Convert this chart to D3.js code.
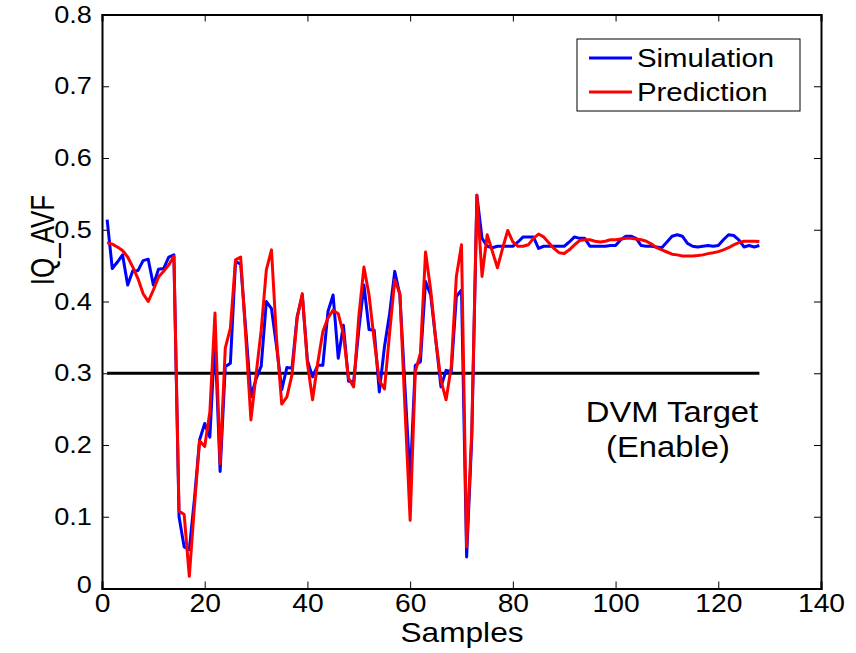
<!DOCTYPE html>
<html>
<head>
<meta charset="utf-8">
<script src="https://cdn.jsdelivr.net/npm/d3@7"></script>
<style>
  body { margin: 0; background: #fff; }
  text { font-family: "Liberation Sans", Arial, sans-serif; fill: #000; }
</style>
</head>
<body>
<div id="graph"></div>
<script>
// values, one per sample (1..128)
var simulation = [
  0.514, 0.446, 0.455, 0.465, 0.423, 0.443, 0.443, 0.457, 0.459, 0.423,
  0.445, 0.446, 0.462, 0.465, 0.100, 0.058, 0.054, 0.125, 0.207, 0.230,
  0.211, 0.350, 0.163, 0.309, 0.314, 0.456, 0.452, 0.360, 0.267, 0.292,
  0.310, 0.400, 0.390, 0.337, 0.277, 0.308, 0.307, 0.379, 0.409, 0.318,
  0.295, 0.311, 0.311, 0.386, 0.409, 0.321, 0.367, 0.289, 0.288, 0.360,
  0.423, 0.361, 0.360, 0.274, 0.337, 0.383, 0.442, 0.409, 0.280, 0.150,
  0.311, 0.316, 0.428, 0.409, 0.346, 0.281, 0.304, 0.302, 0.407, 0.416,
  0.044, 0.210, 0.548, 0.488, 0.477, 0.475, 0.477, 0.477, 0.477, 0.477,
  0.483, 0.490, 0.490, 0.490, 0.474, 0.477, 0.477, 0.477, 0.477, 0.477,
  0.483, 0.490, 0.488, 0.488, 0.477, 0.477, 0.477, 0.477, 0.478, 0.478,
  0.486, 0.491, 0.491, 0.488, 0.478, 0.477, 0.477, 0.476, 0.475, 0.483,
  0.491, 0.493, 0.491, 0.481, 0.477, 0.476, 0.477, 0.478, 0.477, 0.478,
  0.486, 0.493, 0.492, 0.486, 0.476, 0.478, 0.476, 0.478
];
var prediction = [
  0.482, 0.480, 0.476, 0.471, 0.462, 0.448, 0.432, 0.411, 0.400, 0.416,
  0.434, 0.442, 0.451, 0.463, 0.108, 0.103, 0.017, 0.115, 0.206, 0.198,
  0.246, 0.384, 0.174, 0.335, 0.363, 0.458, 0.462, 0.350, 0.235, 0.298,
  0.360, 0.444, 0.472, 0.346, 0.257, 0.267, 0.298, 0.377, 0.411, 0.314,
  0.263, 0.314, 0.358, 0.377, 0.388, 0.383, 0.355, 0.293, 0.281, 0.379,
  0.448, 0.409, 0.346, 0.290, 0.278, 0.356, 0.430, 0.411, 0.250, 0.095,
  0.302, 0.328, 0.469, 0.416, 0.346, 0.290, 0.263, 0.309, 0.435, 0.479,
  0.058, 0.220, 0.548, 0.435, 0.493, 0.470, 0.447, 0.474, 0.499, 0.483,
  0.477, 0.477, 0.479, 0.488, 0.494, 0.490, 0.482, 0.474, 0.468, 0.467,
  0.472, 0.479, 0.485, 0.486, 0.486, 0.484, 0.483, 0.484, 0.486, 0.486,
  0.487, 0.488, 0.488, 0.487, 0.486, 0.484, 0.480, 0.475, 0.472, 0.469,
  0.466, 0.465, 0.4635, 0.4635, 0.4635, 0.464, 0.465, 0.4667, 0.468, 0.4695,
  0.472, 0.475, 0.479, 0.482, 0.484, 0.484, 0.484, 0.4835
];
var target = 0.3;
var xTicks = [0, 20, 40, 60, 80, 100, 120, 140];
var yTicks = [0, 0.1, 0.2, 0.3, 0.4, 0.5, 0.6, 0.7, 0.8];
var seriesNames = ["Simulation", "Prediction"];
var seriesColors = ["#0000ff", "#ff0000"];

var width = 856;
var height = 653;
var margin = { top: 14.5, bottom: 64.5, left: 102, right: 35 };
var stretch = 1.13; // the reference glyphs are a bit wider than Liberation Sans

var svg = d3.select("#graph").append("svg")
  .attr("width", width)
  .attr("height", height);

var xScale = d3.scaleLinear().domain([0, 140]).range([margin.left, width - margin.right]);
var yScale = d3.scaleLinear().domain([0, 0.8]).range([height - margin.bottom, margin.top]);

function wideText(x, y, size, str, anchor) {
  return svg.append("text")
    .attr("transform", "translate(" + x + "," + y + ") scale(" + stretch + ",1)")
    .attr("text-anchor", anchor || "middle")
    .attr("font-size", size)
    .text(str);
}

// frame with inward ticks on all four sides (matlab "box on")
function drawAxes() {
  var tick = 7;
  var bottom = svg.append("g")
    .attr("transform", "translate(0," + yScale(0) + ")")
    .call(d3.axisBottom(xScale).tickValues(xTicks).tickSize(-tick).tickPadding(6).tickFormat(d3.format("d")));
  var top = svg.append("g")
    .attr("transform", "translate(0," + yScale(0.8) + ")")
    .call(d3.axisTop(xScale).tickValues(xTicks).tickSize(-tick).tickFormat(""));
  var left = svg.append("g")
    .attr("transform", "translate(" + xScale(0) + ",0)")
    .call(d3.axisLeft(yScale).tickValues(yTicks).tickSize(-tick).tickPadding(9).tickFormat(function (d) { return d === 0 ? "0" : d3.format(".1f")(d); }));
  var right = svg.append("g")
    .attr("transform", "translate(" + xScale(140) + ",0)")
    .call(d3.axisRight(yScale).tickValues(yTicks).tickSize(-tick).tickFormat(""));

  [bottom, top, left, right].forEach(function (g) {
    g.select(".domain").attr("stroke", "#000").attr("stroke-width", 2);
    g.selectAll(".tick line").attr("stroke", "#000").attr("stroke-width", 1);
  });
  bottom.selectAll(".tick text")
    .attr("font-size", 25).attr("font-family", "Liberation Sans")
    .attr("transform", "scale(" + stretch + ",1)");
  left.selectAll(".tick text")
    .attr("font-size", 24).attr("font-family", "Liberation Sans")
    .attr("transform", "scale(" + stretch + ",1)");
  // the corner zero of the y axis sits a bit lower, as in the reference
  left.selectAll(".tick text").filter(function (d) { return d === 0; }).attr("dy", "0.15em");
}

function drawSeries() {
  var line = d3.line()
    .x(function (d, i) { return xScale(i + 1); })
    .y(function (d) { return yScale(d); });

  svg.append("line")
    .attr("x1", xScale(1)).attr("x2", xScale(simulation.length))
    .attr("y1", yScale(target)).attr("y2", yScale(target))
    .attr("stroke", "#000").attr("stroke-width", 3);

  [simulation, prediction].forEach(function (values, k) {
    svg.append("path")
      .datum(values)
      .attr("fill", "none")
      .attr("stroke", seriesColors[k])
      .attr("stroke-width", 3)
      .attr("stroke-linejoin", "round")
      .attr("d", line);
  });
}

function drawLabels() {
  wideText(462, 642, 28, "Samples");

  svg.append("text")
    .attr("transform", "translate(54,240) scale(1.3,1) rotate(-90)")
    .attr("text-anchor", "middle")
    .attr("font-size", 26)
    .text("IQ_AVF");

  wideText(672, 422, 29, "DVM Target");
  wideText(668, 457, 29, "(Enable)");
}

function drawLegend() {
  var lg = svg.append("g").attr("transform", "translate(577,39)");
  lg.append("rect")
    .attr("width", 223).attr("height", 72)
    .attr("fill", "#fff").attr("stroke", "#000").attr("stroke-width", 1);
  seriesNames.forEach(function (name, i) {
    var y = 19 + i * 34;
    lg.append("line")
      .attr("x1", 12).attr("x2", 55).attr("y1", y).attr("y2", y)
      .attr("stroke", seriesColors[i]).attr("stroke-width", 3);
    lg.append("text")
      .attr("transform", "translate(60," + y + ") scale(" + stretch + ",1)")
      .attr("dy", "0.35em")
      .attr("font-size", 26)
      .text(name);
  });
}

drawSeries();
drawAxes();
drawLabels();
drawLegend();
</script>
</body>
</html>
